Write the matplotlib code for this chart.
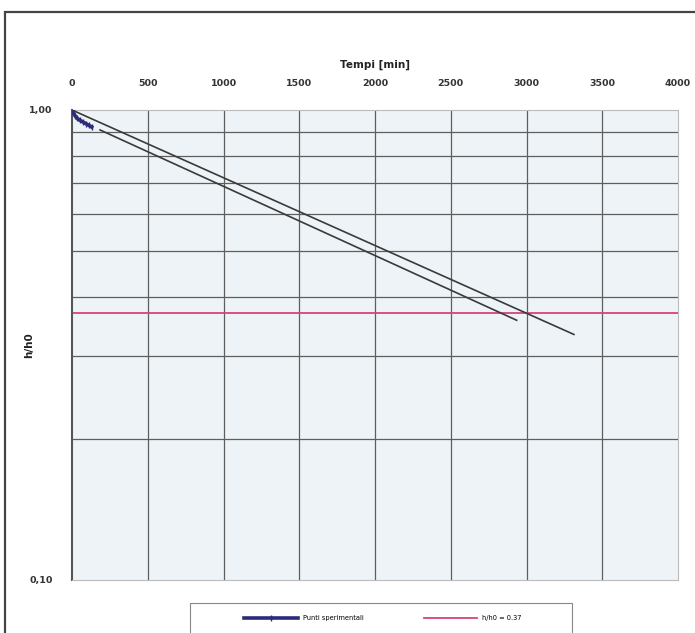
import matplotlib.pyplot as plt
from matplotlib.patches import Rectangle
from matplotlib.ticker import FixedLocator, NullFormatter

# experimental points (minutes, h/h0)
t_exp = [0, 10, 20, 35, 50, 70, 90, 110, 130]
h_exp = [1.0, 0.985, 0.972, 0.96, 0.952, 0.944, 0.936, 0.928, 0.92]

# fitted lines (end points)
t_fit1 = [0, 3313]
h_fit1 = [1.0, 0.333]
t_fit2 = [185, 2935]
h_fit2 = [0.907, 0.357]

h_ref = 0.37
x_ticks = [0, 500, 1000, 1500, 2000, 2500, 3000, 3500, 4000]
y_minor = [0.2, 0.3, 0.4, 0.5, 0.6, 0.7, 0.8, 0.9]

fig = plt.figure(figsize=(6.95, 6.33), dpi=100)
ax = fig.add_axes([72 / 695, 1 - 580 / 633, 606 / 695, 470 / 633])
ax.set_facecolor('#edf3f6')

# figure border
fig.patches.append(Rectangle((5 / 695, -0.1), 1.2, 1 - 12 / 633 + 0.1,
                             transform=fig.transFigure, fill=False,
                             edgecolor='#444444', linewidth=1.6))

ax.set_yscale('log')
ax.set_xlim(0, 4000)
ax.set_ylim(0.1, 1.0)

ax.xaxis.tick_top()
ax.xaxis.set_label_position('top')
ax.set_xticks(x_ticks)
ax.set_xticklabels([str(v) for v in x_ticks], fontsize=6.8, fontweight='bold', color='#333333')
ax.tick_params(axis='x', length=0, pad=16)

ax.yaxis.set_major_locator(FixedLocator([0.1, 1.0]))
ax.yaxis.set_minor_locator(FixedLocator(y_minor))
ax.yaxis.set_minor_formatter(NullFormatter())
ax.set_yticklabels(['0,10', '1,00'], fontsize=6.8, fontweight='bold', color='#333333')
ax.tick_params(axis='y', which='both', length=0, pad=14)

ax.set_xlabel('Tempi [min]', fontsize=7.5, fontweight='bold', color='#222222', labelpad=8)
ax.set_ylabel('h/h0', fontsize=7.5, fontweight='bold', color='#222222')
ax.yaxis.set_label_coords(-38 / 606, 0.5)

for xv in x_ticks[1:-1]:
    ax.axvline(xv, color='#5e5e5e', linewidth=0.9, zorder=1)
for yv in y_minor:
    ax.axhline(yv, color='#5e5e5e', linewidth=0.9, zorder=1)

for s in ['top', 'right', 'bottom']:
    ax.spines[s].set_color('#bbbbbb')
ax.spines['left'].set_color('#555555')
ax.spines['left'].set_linewidth(1.5)

ax.plot(t_fit1, h_fit1, color='#3a3a3a', linewidth=1.2, zorder=3)
ax.plot(t_fit2, h_fit2, color='#3a3a3a', linewidth=1.2, zorder=3)
l1, = ax.plot(t_exp, h_exp, color='#2b2b78', linewidth=2.6, marker='|', markersize=5,
              zorder=4, label='Punti sperimentali')
l2 = ax.axhline(h_ref, color='#d6427c', linewidth=1.3, zorder=2, label='h/h0 = 0.37')

# legend box
fig.patches.append(Rectangle((190 / 695, -0.05), 382 / 695, 1 - 603 / 633 + 0.05,
                             transform=fig.transFigure, facecolor='white',
                             edgecolor='#888888', linewidth=0.8))
fig.legend(handles=[l1, l2], loc='center', ncol=2,
           bbox_to_anchor=(383 / 695, 1 - 618 / 633),
           fontsize=4.8, frameon=False, handlelength=8, columnspacing=9)

fig.savefig('out.png', dpi=100)
